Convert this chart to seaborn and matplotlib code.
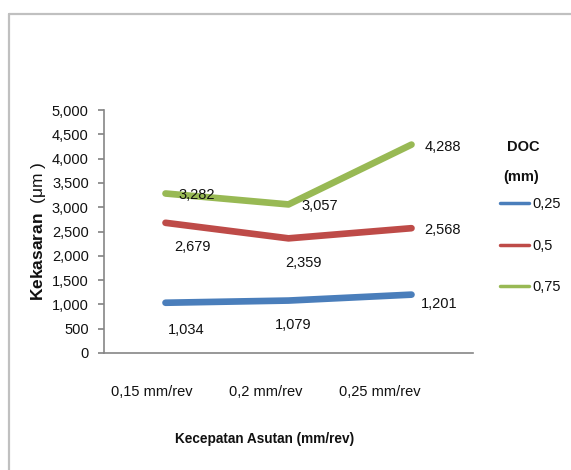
import matplotlib
matplotlib.use("Agg")
import matplotlib.pyplot as plt
import matplotlib.transforms as mtransforms
from matplotlib.lines import Line2D
from matplotlib.ticker import FuncFormatter, MultipleLocator
import pandas as pd
import seaborn as sns

# Feed rates (x categories) and depth of cut series
feed_rates = ["0,15 mm/rev", "0,2 mm/rev", "0,25 mm/rev"]
doc_levels = ["0,25", "0,5", "0,75"]
rough_025 = [1034, 1079, 1201]
rough_050 = [2679, 2359, 2568]
rough_075 = [3282, 3057, 4288]

series = {"0,25": rough_025, "0,5": rough_050, "0,75": rough_075}
df = pd.DataFrame(
    [(f, doc, v) for doc, vals in series.items() for f, v in zip(feed_rates, vals)],
    columns=["feed", "doc", "ra"],
)

sns.set_theme(style="white")
plt.rcParams["font.family"] = ["Liberation Sans", "DejaVu Sans"]
plt.rcParams["mathtext.fontset"] = "custom"
plt.rcParams["mathtext.rm"] = "Liberation Sans"
plt.rcParams["mathtext.bf"] = "Liberation Sans:bold"

TXT = "#111111"
FS = 10.5
colors = ["#4A7EBB", "#BE4B48", "#98B954"]
W, H = 571, 470
fig = plt.figure(figsize=(W / 100, H / 100), dpi=100)
ax = fig.add_axes([104 / W, (H - 353) / H, (473 - 104) / W, (353 - 110) / H])

sns.lineplot(data=df, x="feed", y="ra", hue="doc", hue_order=doc_levels,
             palette=colors, linewidth=4.8, solid_capstyle="round",
             sort=False, legend=False, ax=ax)

ax.set_xlim(-0.5, 2.5)
ax.set_ylim(0, 5000)
ax.yaxis.set_major_locator(MultipleLocator(500))
ax.yaxis.set_major_formatter(FuncFormatter(lambda v, p: f"{v:,.0f}"))
for s in ["top", "right"]:
    ax.spines[s].set_visible(False)
for s in ["left", "bottom"]:
    ax.spines[s].set_color("#868686")
    ax.spines[s].set_linewidth(1.2)
ax.tick_params(axis="y", length=4, color="#868686", labelsize=FS, pad=7,
               left=True, labelcolor=TXT)
ax.tick_params(axis="x", length=0, labelsize=FS, pad=23, labelcolor=TXT)

# shift category labels slightly left
for lbl, dx in zip(ax.get_xticklabels(), [-14, -23, -32]):
    lbl.set_transform(lbl.get_transform() +
                      mtransforms.ScaledTranslation(dx / 100, 0, fig.dpi_scale_trans))

ax.set_xlabel("Kecepatan Asutan (mm/rev)", fontsize=9.8, fontweight="bold", color=TXT)
ax.xaxis.set_label_coords(0.434, -79 / 243)
ax.set_ylabel("$\\mathbf{Kekasaran}$  (\u03bcm )", fontsize=12.5, labelpad=3, color=TXT)

# data labels (offsets in pixels, alignment per label)
offsets = {
    "0,25": [(21, -27, "center"), (5, -24, "center"), (9, -9, "left")],
    "0,5": [(27, -24, "center"), (15, -25, "center"), (13, -2, "left")],
    "0,75": [(13, -2, "left"), (13, -2, "left"), (13, -2, "left")],
}
for doc in doc_levels:
    for i, (f, v) in enumerate(zip(feed_rates, series[doc])):
        dx, dy, ha = offsets[doc][i]
        ax.annotate(f"{v:,}", xy=(f, v), xytext=(dx, dy), textcoords="offset pixels",
                    ha=ha, va="center", fontsize=FS, color=TXT)

# legend
handles = [Line2D([0], [0], color=c, lw=2.5) for c in colors]
leg = ax.legend(handles, doc_levels, frameon=False,
                loc="upper left", bbox_to_anchor=(500 / W, 1 - 197 / H),
                bbox_transform=fig.transFigure, fontsize=FS,
                handlelength=2.0, handletextpad=0.2, labelspacing=1.9,
                borderpad=0, borderaxespad=0)
for t in leg.get_texts():
    t.set_color(TXT)
fig.text(523 / W, 1 - 147 / H, "DOC", ha="center", va="center",
         fontsize=FS, fontweight="bold", color=TXT)
fig.text(521 / W, 1 - 177 / H, "(mm)", ha="center", va="center",
         fontsize=FS, fontweight="bold", color=TXT)

# chart frame (top and left edges)
fig.add_artist(Line2D([8.5 / W, 8.5 / W], [0, 1 - 13.5 / H], transform=fig.transFigure,
                      color="#C0C0C0", lw=1.6))
fig.add_artist(Line2D([8.5 / W, 1], [1 - 13.5 / H, 1 - 13.5 / H], transform=fig.transFigure,
                      color="#C0C0C0", lw=1.6))

fig.savefig("out.png", dpi=100)
